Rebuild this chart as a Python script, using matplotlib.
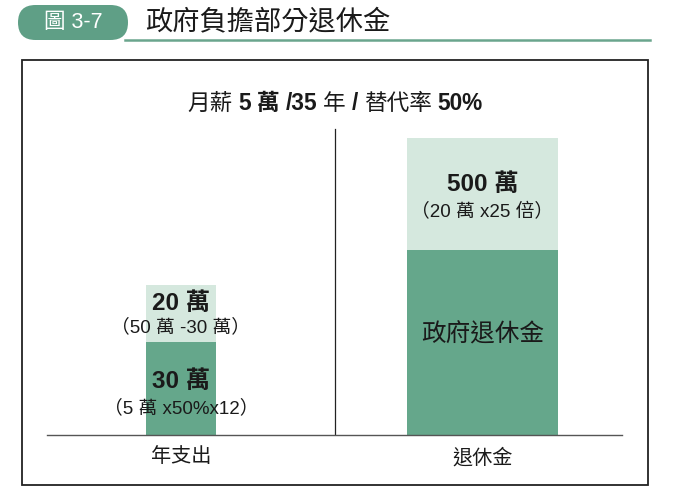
import matplotlib.pyplot as plt
from matplotlib.patches import FancyBboxPatch, Rectangle

plt.rcParams['font.family'] = ['Liberation Sans', 'Noto Sans CJK TC', 'DejaVu Sans']

# data (drawn heights, the chart is not to scale)
categories = ['年支出', '退休金']
base_vals = [93, 185]
top_vals = [57, 112]
bar_widths = [0.232, 0.5]
base_labels = [('30 萬', '（5 萬 x50%x12）'), ('政府退休金', '')]
top_labels = [('20 萬', '（50 萬 -30 萬）'), ('500 萬', '（20 萬 x25 倍）')]

dark = '#65a78b'
light = '#d5e8de'
ink = '#1a1a1a'

fig = plt.figure(figsize=(6.73, 4.96), dpi=100)

# overlay in pixel coordinates for frame/header
ov = fig.add_axes([0, 0, 1, 1])
ov.set_xlim(0, 673)
ov.set_ylim(496, 0)
ov.axis('off')

ov.add_patch(FancyBboxPatch((18, 5), 110, 35, boxstyle='round,pad=0,rounding_size=17.5',
                            fc='#5f9f86', ec='none'))
ov.text(73, 23, '圖 3-7', color='white', fontsize=15.5, ha='center', va='center')
ov.plot([125, 650], [40, 40], color='#6aa58d', lw=1.8)
ov.text(145, 22, '政府負擔部分退休金', fontsize=19.6, color=ink, ha='left', va='center')
ov.add_patch(Rectangle((22, 60), 626, 425, fill=False, ec='#222222', lw=1.3))

# subtitle with mixed weights
parts = [('月薪', 'normal'), ('5', 'bold'), ('萬', 'bold'), ('/35', 'bold'), ('年', 'normal'),
         ('/', 'bold'), ('替代率', 'normal'), ('50%', 'bold')]
gap = 6
renderer = fig.canvas.get_renderer()
texts = []
x = 0
for s, w in parts:
    t = ov.text(x, 110, s, fontsize=16.3, fontweight=w, color=ink, ha='left', va='baseline')
    wpx = t.get_window_extent(renderer).width
    texts.append((t, x))
    x += wpx + gap
total = x - gap
shift = 335 - total / 2
for t, x0 in texts:
    t.set_x(x0 + shift)

# chart axes: baseline at y=435, x from 47 to 622
ax = fig.add_axes([47 / 673, (496 - 435) / 496, 575 / 673, 375 / 496])
ax.patch.set_alpha(0)
xs = [0, 1]
ax.bar(xs, base_vals, width=bar_widths, color=dark)
ax.bar(xs, top_vals, width=bar_widths, bottom=base_vals, color=light)
ax.set_xlim(-0.444, 1.463)
ax.set_ylim(0, 375)
for s in ['top', 'right', 'left']:
    ax.spines[s].set_visible(False)
ax.spines['bottom'].set_color('#555555')
ax.spines['bottom'].set_linewidth(1.0)
ax.set_yticks([])
ax.set_xticks(xs)
ax.set_xticklabels(categories, fontsize=14.5, color=ink)
ax.tick_params(axis='x', length=0, pad=9)
ax.plot([0.511, 0.511], [0, 306], color='#222222', lw=0.9)

for i in range(2):
    # bottom segment labels
    main, sub = base_labels[i]
    yc = base_vals[i] / 2
    if sub:
        ax.annotate(main, (xs[i], yc), xytext=(0, 4.7), textcoords='offset points',
                    ha='center', va='center', fontsize=17.5, fontweight='bold', color=ink)
        ax.annotate(sub, (xs[i], yc), xytext=(0, -14), textcoords='offset points',
                    ha='center', va='center', fontsize=13.5, color=ink)
    else:
        ax.annotate(main, (xs[i], yc), xytext=(0, 5.5), textcoords='offset points',
                    ha='center', va='center', fontsize=17.7, color=ink)
    # top segment labels
    main, sub = top_labels[i]
    yc = base_vals[i] + top_vals[i] / 2
    off, soff = (7, -10) if i == 0 else (6.5, -13)
    ax.annotate(main, (xs[i], yc), xytext=(0, off), textcoords='offset points',
                ha='center', va='center', fontsize=17.5, fontweight='bold', color=ink)
    ax.annotate(sub, (xs[i], yc), xytext=(0, soff), textcoords='offset points',
                ha='center', va='center', fontsize=13.5, color=ink)

fig.savefig('out.png', dpi=100)
